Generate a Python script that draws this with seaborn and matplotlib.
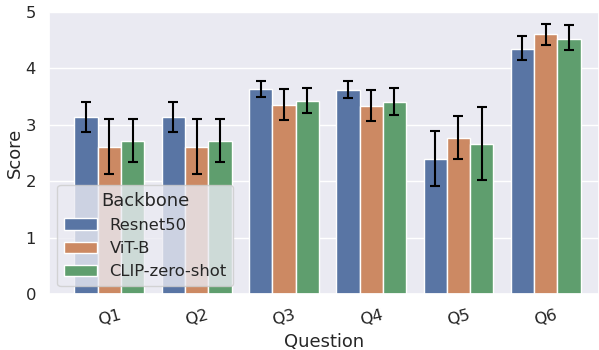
import numpy as np
import pandas as pd
import seaborn as sns
import matplotlib
matplotlib.use("Agg")
import matplotlib.pyplot as plt

questions = ["Q1", "Q2", "Q3", "Q4", "Q5", "Q6"]
backbones = ["Resnet50", "ViT-B", "CLIP-zero-shot"]

resnet_mean = [3.13, 3.13, 3.63, 3.61, 2.39, 4.35]
resnet_lo = [2.88, 2.87, 3.50, 3.48, 1.92, 4.14]
resnet_hi = [3.41, 3.40, 3.78, 3.77, 2.89, 4.58]

vit_mean = [2.61, 2.61, 3.35, 3.33, 2.77, 4.60]
vit_lo = [2.13, 2.13, 3.08, 3.07, 2.40, 4.42]
vit_hi = [3.11, 3.11, 3.63, 3.62, 3.16, 4.79]

clip_mean = [2.71, 2.71, 3.42, 3.40, 2.66, 4.52]
clip_lo = [2.34, 2.34, 3.20, 3.17, 2.02, 4.32]
clip_hi = [3.11, 3.11, 3.66, 3.65, 3.32, 4.76]

means = [resnet_mean, vit_mean, clip_mean]
los = [resnet_lo, vit_lo, clip_lo]
his = [resnet_hi, vit_hi, clip_hi]

rows = []
for b, m, lo, hi in zip(backbones, means, los, his):
    for q, mv, l, h in zip(questions, m, lo, hi):
        rows.append({"Question": q, "Backbone": b, "Score": mv, "lo": l, "hi": h})
df = pd.DataFrame(rows)

sns.set_theme(style="darkgrid", font_scale=1.07)

fig, ax = plt.subplots(figsize=(5.99, 3.5), dpi=100)
fig.subplots_adjust(left=0.082, right=1.0, top=0.966, bottom=0.16)

sns.barplot(data=df, x="Question", y="Score", hue="Backbone", order=questions,
            hue_order=backbones, errorbar=None, edgecolor="white", linewidth=1,
            ax=ax)

# error bars at the bar centres
for container, b in zip(ax.containers, backbones):
    sub = df[df["Backbone"] == b].set_index("Question").loc[questions]
    xs = [p.get_x() + p.get_width() / 2 for p in container.patches]
    ys = sub["Score"].values
    yerr = np.vstack([ys - sub["lo"].values, sub["hi"].values - ys])
    ax.errorbar(xs, ys, yerr=yerr, fmt="none", ecolor="black", elinewidth=1.5,
                capsize=3.3, capthick=1.5, zorder=5)

ax.set_xlim(-0.69, 5.61)
ax.set_ylim(0, 5)
ax.set_yticks([0, 1, 2, 3, 4, 5])
ax.set_xlabel("Question")
ax.set_ylabel("Score", labelpad=1)
plt.setp(ax.get_xticklabels(), rotation=15)
ax.legend(title="Backbone", loc="lower left")

fig.savefig("out.png", dpi=100)
